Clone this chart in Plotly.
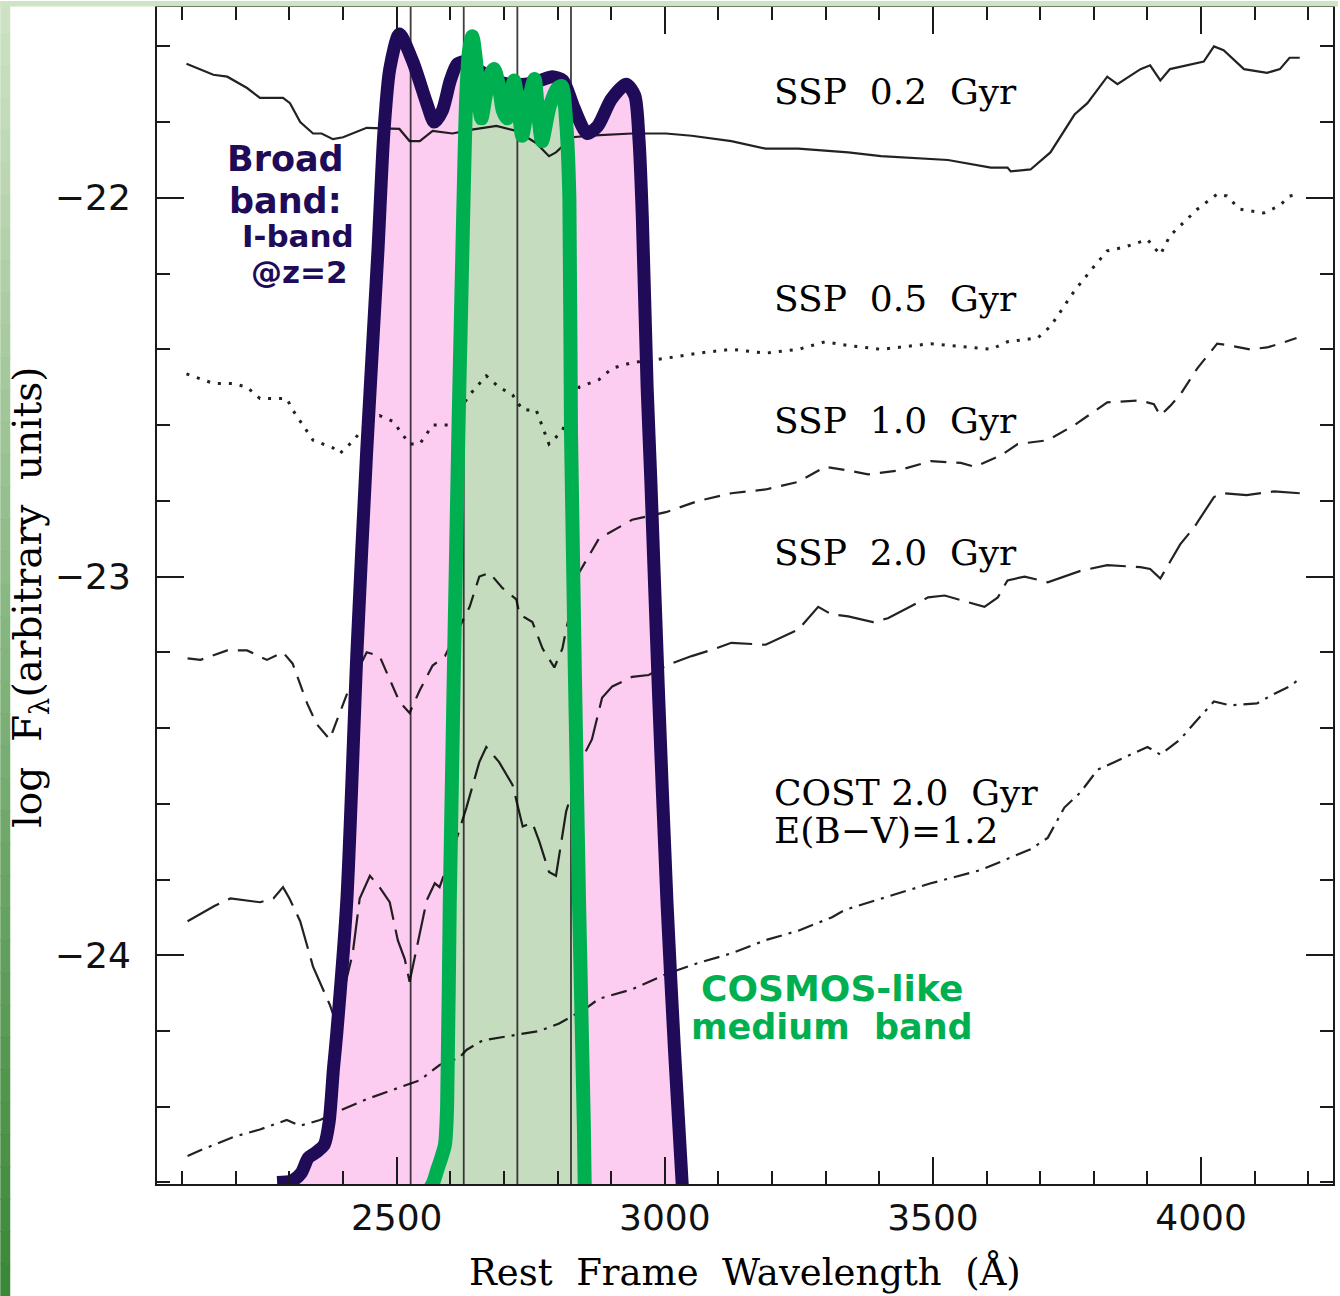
import plotly.graph_objects as go

# ---------------- data ----------------
ssp02_wl = [2108, 2134, 2158, 2184, 2221, 2245, 2288, 2301, 2320, 2344, 2360, 2381, 2400, 2444, 2505, 2524, 2543, 2567, 2604,
            2640, 2686, 2723, 2760, 2784, 2797, 2827, 2870, 2939, 3002, 3050, 3124, 3188, 3249, 3342, 3403, 3528, 3608,
            3639, 3645, 3682, 3719, 3764, 3788, 3825, 3844, 3887, 3905, 3924, 3942, 4005, 4024, 4042, 4080, 4123, 4147,
            4165, 4184]
ssp02_f = [-21.646, -21.66, -21.675, -21.68, -21.71, -21.736, -21.736, -21.75, -21.80, -21.83, -21.83, -21.845, -21.84,
           -21.815, -21.818, -21.85, -21.85, -21.823, -21.83, -21.82, -21.81, -21.823, -21.855, -21.89, -21.88, -21.84,
           -21.835, -21.83, -21.83, -21.836, -21.85, -21.87, -21.87, -21.88, -21.89, -21.90, -21.92, -21.92, -21.93,
           -21.925, -21.88, -21.78, -21.75, -21.68, -21.70, -21.66, -21.65, -21.69, -21.66, -21.64, -21.60, -21.61,
           -21.66, -21.67, -21.66, -21.63, -21.63]

ssp05_wl = [2108, 2158, 2195, 2221, 2245, 2295, 2306, 2344, 2381, 2394, 2420, 2450, 2468, 2493, 2524, 2543, 2567, 2599,
            2636, 2667, 2691, 2716, 2735, 2760, 2784, 2809, 2840, 2877, 2902, 2939, 2995, 3063, 3124, 3188, 3249, 3299,
            3342, 3403, 3496, 3608, 3639, 3695, 3719, 3764, 3801, 3825, 3857, 3900, 3924, 3942, 3993, 4030, 4048, 4072,
            4117, 4147, 4165, 4184]
ssp05_f = [-22.465, -22.49, -22.49, -22.50, -22.53, -22.53, -22.56, -22.64, -22.66, -22.675, -22.64, -22.585, -22.575,
           -22.59, -22.65, -22.65, -22.60, -22.60, -22.52, -22.47, -22.50, -22.52, -22.56, -22.56, -22.65, -22.615,
           -22.50, -22.48, -22.45, -22.435, -22.425, -22.41, -22.40, -22.41, -22.40, -22.38, -22.39, -22.40, -22.385,
           -22.40, -22.38, -22.37, -22.34, -22.245, -22.18, -22.14, -22.13, -22.11, -22.15, -22.10, -22.03, -21.99,
           -21.995, -22.03, -22.04, -22.02, -21.995, -21.99]

ssp10_wl = [2110, 2134, 2184, 2221, 2258, 2288, 2306, 2333, 2351, 2375, 2410, 2444, 2468, 2505, 2524, 2543, 2567, 2590,
            2636, 2654, 2673, 2697, 2723, 2729, 2753, 2772, 2794, 2809, 2816, 2840, 2877, 2939, 3002, 3063, 3124, 3188,
            3249, 3299, 3342, 3379, 3435, 3496, 3552, 3578, 3627, 3658, 3714, 3764, 3825, 3887, 3912, 3924, 3942, 3961,
            3993, 4030, 4054, 4091, 4123, 4147, 4178]
ssp10_f = [-23.216, -23.22, -23.195, -23.195, -23.22, -23.20, -23.23, -23.335, -23.39, -23.43, -23.30, -23.20, -23.21,
           -23.33, -23.36, -23.30, -23.235, -23.21, -23.08, -23.00, -22.99, -23.03, -23.06, -23.10, -23.12, -23.19,
           -23.24, -23.19, -23.14, -22.99, -22.90, -22.85, -22.83, -22.80, -22.78, -22.77, -22.75, -22.71, -22.72,
           -22.73, -22.72, -22.695, -22.70, -22.71, -22.68, -22.65, -22.64, -22.60, -22.54, -22.535, -22.545, -22.575,
           -22.55, -22.52, -22.45, -22.385, -22.39, -22.40, -22.395, -22.385, -22.37]

ssp20_wl = [2110, 2134, 2160, 2190, 2215, 2245, 2270, 2288, 2300, 2320, 2344, 2362, 2375, 2385, 2400, 2418, 2431, 2450,
            2468, 2487, 2502, 2515, 2524, 2533, 2543, 2556, 2571, 2580, 2610, 2630, 2654, 2667, 2691, 2716, 2723, 2735,
            2753, 2766, 2784, 2797, 2816, 2846, 2864, 2883, 2902, 2939, 2970, 3002, 3050, 3095, 3124, 3188, 3249, 3286,
            3311, 3342, 3388, 3416, 3491, 3522, 3596, 3621, 3639, 3671, 3714, 3775, 3825, 3887, 3905, 3924, 3961, 3987,
            4024, 4042, 4085, 4136, 4184]
ssp20_f = [-23.91, -23.89, -23.87, -23.85, -23.855, -23.86, -23.85, -23.82, -23.85, -23.91, -24.03, -24.09, -24.13,
           -24.17, -24.10, -23.995, -23.85, -23.79, -23.82, -23.86, -23.96, -24.01, -24.07, -24.01, -23.94, -23.855,
           -23.81, -23.82, -23.70, -23.61, -23.49, -23.45, -23.49, -23.55, -23.59, -23.66, -23.65, -23.70, -23.78,
           -23.79, -23.62, -23.48, -23.43, -23.32, -23.29, -23.265, -23.26, -23.235, -23.21, -23.19, -23.175, -23.18,
           -23.14, -23.08, -23.10, -23.105, -23.12, -23.11, -23.055, -23.05, -23.08, -23.055, -23.01, -23.00, -23.015,
           -22.985, -22.97, -22.975, -22.98, -23.005, -22.915, -22.87, -22.79, -22.78, -22.785, -22.775, -22.78]

cost_wl = [2110, 2134, 2195, 2245, 2295, 2320, 2357, 2394, 2444, 2505, 2543, 2580, 2617, 2630, 2660, 2723, 2766, 2803,
           2827, 2853, 2877, 2939, 3002, 3063, 3124, 3188, 3249, 3311, 3336, 3403, 3496, 3589, 3682, 3714, 3745, 3775,
           3807, 3838, 3868, 3900, 3924, 3961, 3998, 4024, 4054, 4104, 4136, 4165, 4184]
cost_f = [-24.53, -24.515, -24.48, -24.46, -24.435, -24.45, -24.435, -24.41, -24.38, -24.35, -24.33, -24.29, -24.27,
          -24.25, -24.225, -24.21, -24.20, -24.18, -24.16, -24.14, -24.115, -24.09, -24.05, -24.02, -23.995, -23.96,
          -23.935, -23.90, -23.88, -23.85, -23.81, -23.775, -23.72, -23.69, -23.61, -23.57, -23.51, -23.49, -23.47,
          -23.45, -23.47, -23.43, -23.37, -23.33, -23.34, -23.335, -23.31, -23.29, -23.27]

# broad I-band (z=2) filter outline, drawn in the same coordinates
broad_wl = [2277, 2305, 2322, 2335, 2350, 2365, 2374, 2382, 2388, 2407, 2426, 2444, 2465, 2476, 2487, 2505, 2530, 2556,
            2570, 2585, 2600, 2613, 2630, 2655, 2685, 2710, 2740, 2768, 2790, 2810, 2830, 2855, 2875, 2900, 2928, 2944,
            2952, 2958, 2967, 2974, 2988, 3004, 3018, 3033]
broad_f = [-24.60, -24.595, -24.575, -24.535, -24.52, -24.50, -24.44, -24.30, -24.21, -23.855, -23.195, -22.67, -22.14,
           -21.83, -21.66, -21.567, -21.64, -21.75, -21.80, -21.77, -21.69, -21.646, -21.64, -21.665, -21.69, -21.70,
           -21.70, -21.69, -21.68, -21.69, -21.76, -21.83, -21.81, -21.74, -21.70, -21.73, -21.85, -22.05, -22.50,
           -22.75, -23.30, -23.86, -24.25, -24.62]

# COSMOS-like medium band outline
medium_wl = [2541, 2556, 2568, 2576, 2582, 2590, 2594, 2599, 2615, 2620, 2626, 2630, 2635, 2641, 2648, 2653, 2658, 2666,
             2676, 2682, 2690, 2698, 2706, 2712, 2719, 2727, 2734, 2745, 2757, 2764, 2771, 2785, 2800, 2808, 2816, 2822,
             2825, 2840, 2849, 2851]
medium_f = [-24.63, -24.625, -24.60, -24.565, -24.54, -24.50, -24.40, -23.855, -22.62, -22.30, -21.92, -21.72, -21.61,
            -21.573, -21.64, -21.75, -21.79, -21.73, -21.67, -21.66, -21.70, -21.77, -21.79, -21.73, -21.69, -21.76,
            -21.836, -21.75, -21.686, -21.78, -21.85, -21.76, -21.71, -21.705, -21.80, -22.00, -22.62, -23.855, -24.45,
            -24.65]

feature_lines = [2526, 2625, 2725, 2825]

x_tickvals = [2500, 3000, 3500, 4000]
x_ticktext = ["2500", "3000", "3500", "4000"]
y_tickvals = [-24, -23, -22]
y_ticktext = ["\u221224", "\u221223", "\u221222"]

# ---------------- figure ----------------
W, H = 1340, 1296
ML, MR, MT, MB = 157, 5, 6, 112
X_RANGE = [2053, 4246]
Y_RANGE = [-24.604, -21.496]
PW, PH = W - ML - MR, H - MT - MB


def paper_x(px):
    return (px - ML) / PW


def paper_y(py):
    return (H - MB - py) / PH


PINK = "#fdcdf1"
GREENFILL = "#c6dcbf"
NAVY = "#200b58"
GREEN = "#00b050"
INK = "rgba(10,10,10,0.9)"

fig = go.Figure()

# pink area under the broad band
fig.add_trace(go.Scatter(x=[broad_wl[0], broad_wl[-1]], y=[Y_RANGE[0], Y_RANGE[0]], mode="lines",
                         line=dict(width=0), hoverinfo="skip", showlegend=False))
fig.add_trace(go.Scatter(x=broad_wl, y=broad_f, mode="lines", line=dict(width=0, shape="spline", smoothing=0.7),
                         fill="tonexty", fillcolor=PINK, hoverinfo="skip", showlegend=False))
# green area under the medium band
fig.add_trace(go.Scatter(x=[medium_wl[0], medium_wl[-1]], y=[Y_RANGE[0], Y_RANGE[0]], mode="lines",
                         line=dict(width=0), hoverinfo="skip", showlegend=False))
fig.add_trace(go.Scatter(x=medium_wl, y=medium_f, mode="lines", line=dict(width=0, shape="spline", smoothing=0.7),
                         fill="tonexty", fillcolor=GREENFILL, hoverinfo="skip", showlegend=False))

# thin vertical feature lines
for v in feature_lines:
    fig.add_trace(go.Scatter(x=[v, v], y=Y_RANGE, mode="lines", line=dict(color="rgba(30,25,30,0.85)", width=1.8),
                             hoverinfo="skip", showlegend=False))

# spectra
fig.add_trace(go.Scatter(x=ssp02_wl, y=ssp02_f, mode="lines", line=dict(color=INK, width=2.2),
                         name="SSP 0.2 Gyr", showlegend=False))
fig.add_trace(go.Scatter(x=ssp05_wl, y=ssp05_f, mode="lines", line=dict(color=INK, width=3, dash="3px,8px"),
                         name="SSP 0.5 Gyr", showlegend=False))
fig.add_trace(go.Scatter(x=ssp10_wl, y=ssp10_f, mode="lines", line=dict(color=INK, width=2.2, dash="16px,10px"),
                         name="SSP 1.0 Gyr", showlegend=False))
fig.add_trace(go.Scatter(x=ssp20_wl, y=ssp20_f, mode="lines", line=dict(color=INK, width=2.2, dash="36px,10px"),
                         name="SSP 2.0 Gyr", showlegend=False))
fig.add_trace(go.Scatter(x=cost_wl, y=cost_f, mode="lines",
                         line=dict(color=INK, width=2.2, dash="16px,7px,3px,7px"),
                         name="COST 2.0 Gyr", showlegend=False))

# filter outlines
fig.add_trace(go.Scatter(x=broad_wl, y=broad_f, mode="lines",
                         line=dict(color=NAVY, width=13, shape="spline", smoothing=0.7),
                         name="Broad band", showlegend=False))
fig.add_trace(go.Scatter(x=medium_wl, y=medium_f, mode="lines",
                         line=dict(color=GREEN, width=14, shape="spline", smoothing=0.7),
                         name="Medium band", showlegend=False))

SERIF = "DejaVu Serif"
SANS = "DejaVu Sans"
NB = "\u00a0"

annotations = []


def label(text, x, y, size=36, color="black", family=SERIF, anchor="left"):
    annotations.append(dict(text=text, x=x, y=y, xref="x", yref="y", xanchor=anchor, yanchor="middle",
                            showarrow=False, font=dict(family=family, size=size, color=color)))


label(f"SSP{NB} 0.2{NB} Gyr", 3200, -21.718)
label(f"SSP{NB} 0.5{NB} Gyr", 3200, -22.266)
label(f"SSP{NB} 1.0{NB} Gyr", 3200, -22.588)
label(f"SSP{NB} 2.0{NB} Gyr", 3200, -22.937)
label(f"COST 2.0{NB} Gyr", 3200, -23.57)
label("E(B\u2212V)=1.2", 3200, -23.67)

label("<b>Broad</b>", 2292, -21.897, size=35, color=NAVY, family=SANS, anchor="center")
label("<b>band:</b>", 2292, -22.008, size=35, color=NAVY, family=SANS, anchor="center")
label("<b>I-band</b>", 2316, -22.100, size=31, color=NAVY, family=SANS, anchor="center")
label("<b>@z=2</b>", 2318, -22.196, size=31, color=NAVY, family=SANS, anchor="center")

label("<b>COSMOS-like</b>", 3312, -24.087, size=36, color=GREEN, family=SANS, anchor="center")
label(f"<b>medium{NB} band</b>", 3312, -24.19, size=35, color=GREEN, family=SANS, anchor="center")

# axis titles
annotations.append(dict(text=f"Rest{NB} Frame{NB} Wavelength{NB} (Å)", x=paper_x(746), y=paper_y(1272),
                        xref="paper", yref="paper", xanchor="center", yanchor="middle", showarrow=False,
                        font=dict(family=SERIF, size=37, color="black")))
annotations.append(dict(text=f"log{NB} F<sub>λ</sub>(arbitrary{NB} units)", x=paper_x(30), y=paper_y(597),
                        xref="paper", yref="paper", xanchor="center", yanchor="middle", showarrow=False,
                        textangle=-90, font=dict(family=SERIF, size=39, color="black")))

# decorative green page border (left gradient strip, top strip)
shapes = []
top_c = (207, 227, 197)
bot_c = (58, 135, 55)
n = 40
for i in range(n):
    t = (i + 0.5) / n
    c = tuple(int(round(top_c[k] + (bot_c[k] - top_c[k]) * t)) for k in range(3))
    y0 = H * i / n
    y1 = H * (i + 1) / n + 1
    shapes.append(dict(type="rect", xref="paper", yref="paper", x0=paper_x(0), x1=paper_x(10),
                       y0=paper_y(y1), y1=paper_y(y0), line=dict(width=0), fillcolor="rgb(%d,%d,%d)" % c,
                       layer="above"))
shapes.append(dict(type="rect", xref="paper", yref="paper", x0=paper_x(0), x1=paper_x(W),
                   y0=paper_y(5.5), y1=paper_y(0), line=dict(width=0), fillcolor="rgb(207,227,197)", layer="above"))

axis_common = dict(showgrid=False, zeroline=False, showline=True, linecolor="#1a1a1a", linewidth=2,
                   mirror="allticks", ticks="inside", ticklen=27, tickwidth=2, tickcolor="#1a1a1a",
                   tickfont=dict(family=SANS, size=36, color="#111"))

fig.update_layout(
    width=W, height=H,
    margin=dict(l=ML, r=MR, t=MT, b=MB, pad=0),
    paper_bgcolor="white", plot_bgcolor="white",
    showlegend=False,
    xaxis=dict(range=X_RANGE, tickmode="array", tickvals=x_tickvals, ticktext=x_ticktext,
               minor=dict(ticks="inside", ticklen=13, tickwidth=2, tickcolor="#1a1a1a", dtick=100, tick0=2000,
                          showgrid=False),
               ticklabelstandoff=1, **axis_common),
    yaxis=dict(range=Y_RANGE, tickmode="array", tickvals=y_tickvals, ticktext=y_ticktext,
               minor=dict(ticks="inside", ticklen=13, tickwidth=2, tickcolor="#1a1a1a", dtick=0.2, tick0=-25,
                          showgrid=False),
               ticklabelstandoff=17, **axis_common),
    annotations=annotations,
    shapes=shapes,
)

fig.write_html("out.html")
